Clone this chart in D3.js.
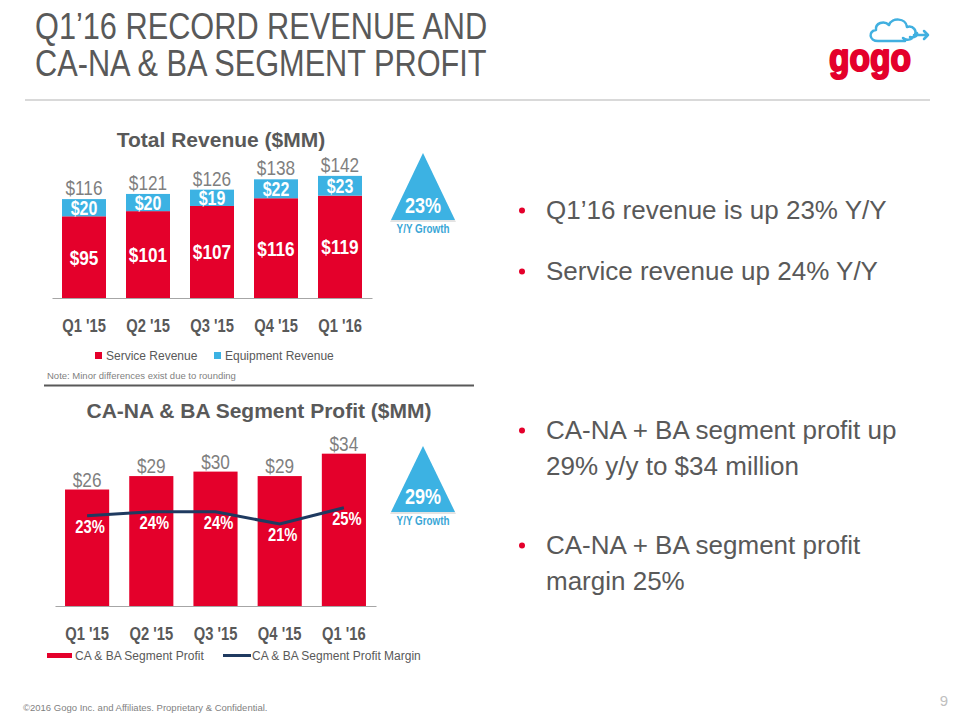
<!DOCTYPE html>
<html><head><meta charset="utf-8">
<script src="https://cdn.jsdelivr.net/npm/d3@7"></script>
<style>
body{margin:0;background:#fff;}
svg{display:block;}
text{font-family:"Liberation Sans",Arial,sans-serif;}
</style></head>
<body>
<svg id="c" width="960" height="720"></svg>
<script>
// ---------- data ----------
const quarters = ["Q1 '15","Q2 '15","Q3 '15","Q4 '15","Q1 '16"];
const serviceRevenue = [95,101,107,116,119];
const equipmentRevenue = [20,20,19,22,23];
const totalRevenue = [116,121,126,138,142];
const segmentProfit = [26,29,30,29,34];
const segmentMargin = [23,24,24,21,25];
const revenueGrowth = "23%";
const profitGrowth = "29%";
const titleLines = ["Q1\u201916 RECORD REVENUE AND","CA-NA & BA SEGMENT PROFIT"];
const bulletsTop = [["Q1\u201916 revenue is up 23% Y/Y"],["Service revenue up 24% Y/Y"]];
const bulletsBottom = [["CA-NA + BA segment profit up","29% y/y to $34 million"],["CA-NA + BA segment profit","margin 25%"]];

const RED="#e4002b", BLUE="#3cb2e3", GRAY="#595959", LGRAY="#7f7f7f", NAVY="#1f3a60";
const SX = 0.82; // condensed (Arial Narrow-like) horizontal scale
const svg = d3.select("#c");

// place a text horizontally condensed at (x,y)
function nt(sel, fx, fy, sx){
  const f = v => typeof v === "function" ? v : () => v;
  const gx = f(fx), gy = f(fy), s = sx || SX;
  return sel.attr("x",0).attr("y",0)
    .attr("transform",(d,i)=>`translate(${gx(d,i)},${gy(d,i)}) scale(${s},1)`);
}

// ---------- header ----------
nt(svg.selectAll("text.title").data(titleLines).join("text").attr("class","title")
  .attr("font-size",37).attr("fill",GRAY).text(d=>d), 35, (d,i)=>39+i*37, 0.83);
svg.append("line").attr("x1",25).attr("x2",930).attr("y1",100).attr("y2",100)
  .attr("stroke","#d9d9d9").attr("stroke-width",2);

// logo
const logo = svg.append("g");
logo.append("path")
  .attr("d","M878,41 C869,41 868,31 876,30 C875,23 884,20 889,25 C892,17 906,18 907,27 C913,25 918,31 914,36 C912,40 906,41 903,38 M878,41 L905,41 M910,37 C915,38 918,35 917,33 M914,35 L928,35 M924,31 L928,35 L924,39")
  .attr("fill","none").attr("stroke","#41b0e0").attr("stroke-width",2.5).attr("stroke-linecap","round").attr("stroke-linejoin","round");
logo.append("text").attr("x",829).attr("y",71).attr("font-size",38).attr("font-weight","bold")
  .attr("font-family","DejaVu Sans, sans-serif").attr("fill",RED).attr("stroke",RED).attr("stroke-width",2)
  .attr("stroke-linejoin","round")
  .attr("textLength",82).attr("lengthAdjust","spacingAndGlyphs").text("gogo");

// ---------- top chart ----------
const x1 = d3.scaleBand().domain(quarters).range([52,372]).paddingInner(0.3125).paddingOuter(0.15625);
const y1 = d3.scaleLinear().domain([0,150]).range([298,169]);
const topG = svg.append("g");
topG.append("text").attr("x",221).attr("y",147).attr("text-anchor","middle")
  .attr("font-size",21).attr("font-weight","bold").attr("fill",GRAY).text("Total Revenue ($MM)");

const revData = quarters.map((q,i)=>({q, s:serviceRevenue[i], e:equipmentRevenue[i], t:totalRevenue[i]}));
const cx1 = d => x1(d.q)+x1.bandwidth()/2;
topG.selectAll("rect.s").data(revData).join("rect").attr("class","s")
  .attr("x",d=>x1(d.q)).attr("width",x1.bandwidth())
  .attr("y",d=>y1(d.s)).attr("height",d=>y1(0)-y1(d.s)).attr("fill",RED);
topG.selectAll("rect.e").data(revData).join("rect").attr("class","e")
  .attr("x",d=>x1(d.q)).attr("width",x1.bandwidth())
  .attr("y",d=>y1(d.s+d.e)).attr("height",d=>y1(d.s)-y1(d.s+d.e)).attr("fill",BLUE);
nt(topG.selectAll("text.sl").data(revData).join("text").attr("class","sl")
  .attr("text-anchor","middle").attr("font-size",21).attr("font-weight","bold").attr("fill","#fff")
  .text(d=>"$"+d.s), cx1, d=>(y1(d.s)+y1(0))/2+7.5);
nt(topG.selectAll("text.el").data(revData).join("text").attr("class","el")
  .attr("text-anchor","middle").attr("font-size",19.5).attr("font-weight","bold").attr("fill","#fff")
  .text(d=>"$"+d.e), cx1, d=>(y1(d.s)+y1(d.s+d.e))/2+7.5);
nt(topG.selectAll("text.tl").data(revData).join("text").attr("class","tl")
  .attr("text-anchor","middle").attr("font-size",21).attr("fill",LGRAY)
  .text(d=>"$"+d.t), cx1, d=>y1(d.s+d.e)-4);
const ax1 = topG.append("g").attr("transform","translate(0,298)")
  .call(d3.axisBottom(x1).tickSize(0).tickPadding(21));
ax1.select(".domain").attr("stroke","#a6a6a6").attr("stroke-width",1.2);
ax1.selectAll("text").attr("font-size",18).attr("font-weight","bold").attr("fill",GRAY)
  .attr("transform",`scale(${SX},1)`);

// legend top
const lg1 = topG.append("g");
[["Service Revenue",RED,95],["Equipment Revenue",BLUE,214]].forEach(([t,c,x])=>{
  lg1.append("rect").attr("x",x).attr("y",352).attr("width",7).attr("height",7).attr("fill",c);
  lg1.append("text").attr("x",x+11).attr("y",360).attr("font-size",12).attr("fill",GRAY).text(t);
});
topG.append("text").attr("x",47).attr("y",379).attr("font-size",9.5).attr("fill",LGRAY)
  .text("Note: Minor differences exist due to rounding");
svg.append("line").attr("x1",44).attr("x2",474).attr("y1",385.5).attr("y2",385.5)
  .attr("stroke","#595959").attr("stroke-width",2);

// ---------- triangles ----------
function triangle(cx, apexY, baseY, halfW, label, labY, subY){
  const g = svg.append("g");
  g.append("path").attr("d",`M${cx},${apexY+1.5}L${cx+halfW+1},${baseY+2}L${cx-halfW-1},${baseY+2}Z`).attr("fill","#d0d0d0").attr("opacity",0.6);
  g.append("path").attr("d",`M${cx},${apexY}L${cx+halfW},${baseY}L${cx-halfW},${baseY}Z`).attr("fill",BLUE);
  nt(g.append("text").attr("text-anchor","middle")
    .attr("font-size",22).attr("font-weight","bold").attr("fill","#fff").text(label), cx, labY);
  nt(g.append("text").attr("text-anchor","middle")
    .attr("font-size",12).attr("font-weight","bold").attr("fill","#3aa6d6").text("Y/Y Growth"), cx, subY);
}
triangle(423,153,220,32,revenueGrowth,213,233);
triangle(423,446,512,32,profitGrowth,504,525);

// ---------- bottom chart ----------
const x2 = d3.scaleBand().domain(quarters).range([55,376]).paddingInner(0.3125).paddingOuter(0.15625);
const y2 = d3.scaleLinear().domain([0,40]).range([606,426.8]);
const ym = d3.scaleLinear().domain([0,100]).range([609.7,201.7]);
const bot = svg.append("g");
bot.append("text").attr("x",259).attr("y",418).attr("text-anchor","middle")
  .attr("font-size",21).attr("font-weight","bold").attr("fill",GRAY).text("CA-NA & BA Segment Profit ($MM)");
const pData = quarters.map((q,i)=>({q, p:segmentProfit[i], m:segmentMargin[i]}));
const cx2 = d => x2(d.q)+x2.bandwidth()/2;
bot.selectAll("rect.p").data(pData).join("rect").attr("class","p")
  .attr("x",d=>x2(d.q)).attr("width",x2.bandwidth())
  .attr("y",d=>y2(d.p)).attr("height",d=>y2(0)-y2(d.p)).attr("fill",RED);
nt(bot.selectAll("text.pl").data(pData).join("text").attr("class","pl")
  .attr("text-anchor","middle").attr("font-size",21).attr("fill",LGRAY).text(d=>"$"+d.p),
  cx2, d=>y2(d.p)-3);
const line = d3.line().x(cx2).y(d=>ym(d.m));
bot.append("path").datum(pData).attr("d",line).attr("fill","none").attr("stroke",NAVY).attr("stroke-width",3);
nt(bot.selectAll("text.ml").data(pData).join("text").attr("class","ml")
  .attr("text-anchor","middle").attr("font-size",18).attr("font-weight","bold").attr("fill","#fff").text(d=>d.m+"%"),
  d=>cx2(d)+3, d=>ym(d.m)+17);
const ax2 = bot.append("g").attr("transform","translate(0,606)")
  .call(d3.axisBottom(x2).tickSize(0).tickPadding(21));
ax2.select(".domain").attr("stroke","#a6a6a6").attr("stroke-width",1.2);
ax2.selectAll("text").attr("font-size",18).attr("font-weight","bold").attr("fill",GRAY)
  .attr("transform",`scale(${SX},1)`);

// legend bottom
bot.append("rect").attr("x",47).attr("y",653).attr("width",25).attr("height",5).attr("fill",RED);
bot.append("text").attr("x",75).attr("y",660).attr("font-size",12).attr("fill",GRAY).text("CA & BA Segment Profit");
bot.append("line").attr("x1",223).attr("x2",251).attr("y1",655.5).attr("y2",655.5).attr("stroke",NAVY).attr("stroke-width",3);
bot.append("text").attr("x",252).attr("y",660).attr("font-size",12).attr("fill",GRAY).text("CA & BA Segment Profit Margin");

// ---------- bullets ----------
function bullets(list, startY, lineH, gap){
  let y = startY;
  list.forEach(lines=>{
    svg.append("circle").attr("cx",522).attr("cy",y-8.5).attr("r",3).attr("fill",RED);
    lines.forEach((t,j)=>{
      svg.append("text").attr("x",546).attr("y",y+j*lineH).attr("font-size",26).attr("fill",GRAY).text(t);
    });
    y += (lines.length-1)*lineH + gap;
  });
}
bullets(bulletsTop, 219, 36, 61);
bullets(bulletsBottom, 439, 36, 79);

// ---------- footer ----------
svg.append("text").attr("x",23).attr("y",711).attr("font-size",9.5).attr("fill",LGRAY)
  .text("\u00a92016 Gogo Inc. and Affiliates. Proprietary & Confidential.");
svg.append("text").attr("x",944).attr("y",706).attr("text-anchor","middle").attr("font-size",15).attr("fill","#bfbfbf").text("9");
</script>
</body></html>
